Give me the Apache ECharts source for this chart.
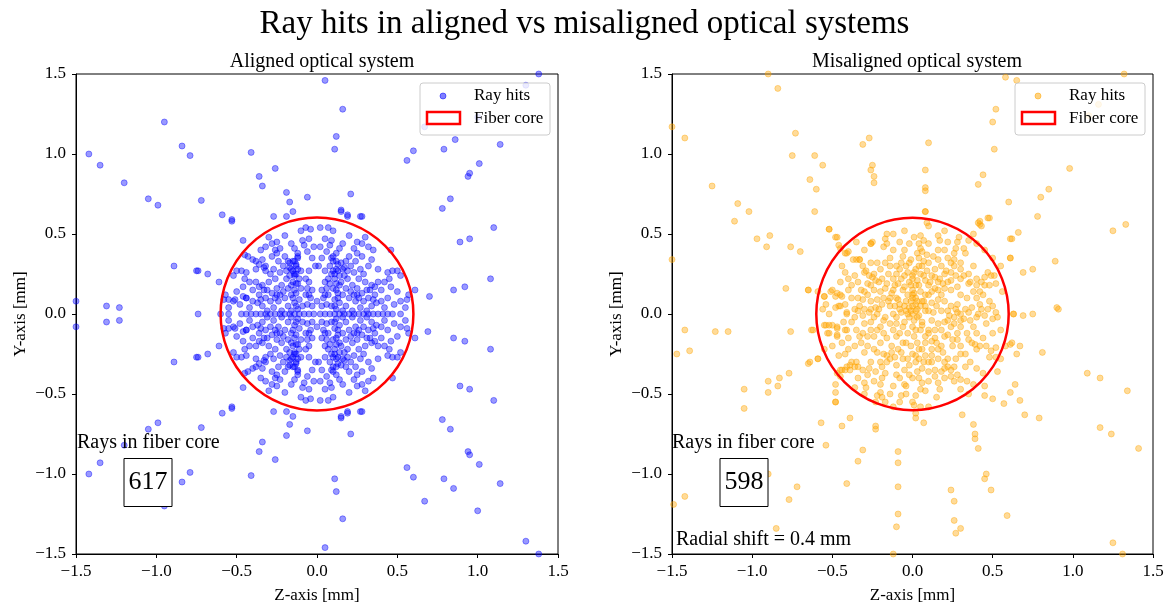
<!DOCTYPE html>
<html><head><meta charset="utf-8">
<script src="https://cdn.jsdelivr.net/npm/echarts@6/dist/echarts.min.js"></script>
<style>html,body{margin:0;padding:0;background:#fff}#c{width:1169px;height:603px}</style>
</head><body><div id="c"></div>
<script>
const FONT = 'Liberation Serif, Times New Roman, serif';
const axisTicks = [-1.5, -1.0, -0.5, 0.0, 0.5, 1.0, 1.5];
const fiberCore = [[0, 0, 0.6]];
const countAligned = 617, countMisaligned = 598;
const radialShift = 0.4;

const alignedOuter = [[-0.95,1.20],[-1.42,1.00],[-1.35,0.93],[-1.20,0.82],[-1.05,0.72],[-0.99,0.68],[-0.84,1.05],[-0.79,0.99],[-0.72,0.71],[-0.59,0.62],[-0.53,0.59],[-0.53,0.58],[-0.46,0.46],[-0.41,1.01],[-0.36,0.86],[-0.34,0.80],[-0.26,0.91],[-0.19,0.76],[-0.17,0.70],[-0.06,0.73],[-0.26,0.40],[-0.89,0.30],[-0.75,0.27],[-0.74,0.27],[-0.68,0.25],[-0.61,0.20],[-1.50,0.08],[-1.31,0.05],[-1.23,0.04],[-0.74,0.00],[-0.60,0.00],[-0.55,0.00],[-0.58,0.09],[-0.55,0.09],[-0.51,0.09],[-0.46,0.11],[-0.44,0.10],[-0.45,0.37],[-0.43,0.36],[-0.40,0.34],[-0.38,0.33],[-0.36,0.31],[-0.33,0.29],[-0.32,0.27],
[0.05,1.46],[0.16,1.28],[0.12,1.11],[0.11,1.03],[0.21,0.75],[0.15,0.65],[0.19,0.62],[0.28,0.61],[0.60,1.02],[0.56,0.96],[0.79,1.03],[0.86,1.09],[1.14,1.06],[1.01,0.94],[0.95,0.88],[0.94,0.86],[0.83,0.72],[0.78,0.66],[1.10,0.54],[0.95,0.47],[0.89,0.45],[1.08,0.22],[0.92,0.17],[0.85,0.15],[0.70,0.11],[0.61,0.15],[1.38,1.50],[1.30,1.43],[0.67,1.17],[1.00,1.23],[0.46,0.40],[0.56,0.09],
[-1.50,-0.08],[-1.31,-0.05],[-1.23,-0.04],[-0.89,-0.30],[-0.75,-0.27],[-0.74,-0.27],[-0.68,-0.25],[-0.61,-0.20],[-0.59,-0.62],[-0.53,-0.58],[-0.53,-0.59],[-0.46,-0.46],[-1.05,-0.72],[-0.99,-0.68],[-0.72,-0.71],[-1.20,-0.82],[-1.35,-0.93],[-1.42,-1.00],[-0.79,-0.99],[-0.84,-1.05],[-0.95,-1.20],[-0.41,-1.01],[-0.36,-0.86],[-0.34,-0.80],[-0.26,-0.91],[-0.19,-0.76],[-0.17,-0.69],[-0.06,-0.73],[-0.26,-0.40],[-0.58,-0.09],[-0.55,-0.09],[-0.51,-0.09],[-0.46,-0.11],[-0.44,-0.10],[-0.45,-0.37],[-0.43,-0.36],[-0.40,-0.34],[-0.38,-0.33],[-0.36,-0.31],[-0.33,-0.29],[-0.32,-0.27],
[0.69,-0.11],[0.61,-0.15],[0.85,-0.15],[0.92,-0.17],[1.08,-0.22],[0.89,-0.45],[0.95,-0.47],[1.10,-0.54],[0.78,-0.66],[0.83,-0.72],[0.94,-0.86],[0.95,-0.88],[1.01,-0.94],[1.14,-1.06],[0.56,-0.96],[0.60,-1.02],[0.79,-1.03],[0.85,-1.09],[0.67,-1.17],[1.00,-1.23],[0.11,-1.03],[0.12,-1.11],[0.16,-1.28],[0.05,-1.46],[1.30,-1.42],[1.38,-1.50],[0.15,-0.65],[0.19,-0.62],[0.28,-0.61],[0.21,-0.75],[0.47,-0.40],[0.56,-0.09]];

const alignedRow = [[-0.47,0],[-0.44,0],[-0.41,0],[-0.38,0],[-0.35,0],[-0.32,0],[-0.29,0],[-0.26,0],[-0.23,0],[-0.20,0],[-0.17,0],[-0.14,0],[-0.11,0],[-0.08,0],[-0.05,0],[-0.02,0],[0.02,0],[0.05,0],[0.08,0],[0.11,0],[0.14,0],[0.17,0],[0.20,0],[0.23,0],[0.26,0],[0.29,0],[0.32,0],[0.35,0],[0.38,0],[0.41,0],[0.44,0],[0.47,0],[0.52,0],[0,0.08],[0,-0.08]];

const alignedQ1 = [[0.24,0.33],[0.28,0.36],[0.32,0.42],[0.30,0.48],[0.28,0.44],[0.25,0.38],[0.34,0.34],[0.20,0.49],[0.16,0.44],[0.19,0.61],[0.15,0.64],[0.27,0.61],[0.02,0.54],[0.07,0.54],[0.10,0.52],[0.05,0.47],[0.09,0.46],[0.38,0.20],[0.42,0.20],[0.44,0.26],[0.47,0.27],[0.50,0.27],[0.52,0.24],[0.34,0.18],[0.31,0.15],[0.28,0.13],[0.25,0.12],[0.08,0.30],[0.10,0.33],[0.12,0.28],[0.09,0.25],[0.11,0.22],[0.08,0.19],[0.10,0.16],[0.13,0.13],[0.07,0.12],[0.15,0.20],[0.17,0.24],[0.19,0.27],[0.21,0.30],[0.18,0.16],[0.22,0.18],[0.20,0.10],[0.24,0.08],[0.14,0.07],[0.06,0.06],[0.04,0.10],[0.03,0.15],[0.05,0.20],[0.16,0.12],[0.26,0.22],[0.29,0.25],[0.32,0.10],[0.36,0.12],[0.40,0.08],[0.44,0.10],[0.48,0.06],[0.52,0.08],[0.55,0.04],[0.50,0.14],[0.46,0.17],[0.12,0.38],[0.14,0.41],[0.06,0.39],[0.03,0.35],[0.01,0.30],[0.20,0.36],[0.23,0.41],[0.25,0.45],[0.09,0.05],[0.18,0.05],[0.27,0.04],[0.34,0.05],[0.42,0.04],[0.12,0.03],[0.22,0.02],[0.31,0.02],[0.11,0.09],[0.09,0.35],[0.13,0.31],[0.10,0.27],[0.12,0.19],[0.14,0.24],[0.07,0.22],[0.16,0.28],[0.18,0.33],[0.45,0.22],[0.40,0.15],[0.37,0.07],[0.30,0.20],[0.23,0.26],[0.05,0.27],[0.02,0.42],[0.08,0.43],[0.57,0.12],[0.38,0.28],[0.35,0.40],
[0.11,0.05],[0.13,0.10],[0.12,0.15],[0.14,0.18],[0.11,0.25],[0.13,0.27],[0.12,0.33],[0.10,0.36],[0.15,0.32],[0.17,0.29],[0.19,0.22],[0.21,0.14],[0.23,0.12],[0.26,0.10],[0.29,0.08],[0.35,0.09],[0.33,0.15],[0.36,0.17],[0.06,0.16],[0.05,0.12],[0.03,0.05],[0.16,0.02],[0.25,0.16],[0.27,0.28],[0.32,0.30]];

const alignedQ2 = [[-0.24,0.33],[-0.28,0.36],[-0.32,0.42],[-0.30,0.48],[-0.28,0.44],[-0.25,0.38],[-0.34,0.34],[-0.20,0.49],[-0.16,0.44],[-0.19,0.61],[-0.15,0.64],[-0.27,0.61],[-0.04,0.53],[-0.07,0.54],[-0.10,0.52],[-0.05,0.47],[-0.09,0.46],[-0.38,0.20],[-0.42,0.20],[-0.44,0.26],[-0.47,0.27],[-0.50,0.27],[-0.52,0.24],[-0.34,0.18],[-0.31,0.15],[-0.28,0.13],[-0.25,0.12],[-0.13,0.30],[-0.15,0.33],[-0.12,0.28],[-0.14,0.25],[-0.11,0.22],[-0.13,0.19],[-0.10,0.16],[-0.13,0.13],[-0.07,0.12],[-0.15,0.20],[-0.17,0.24],[-0.19,0.27],[-0.21,0.30],[-0.18,0.16],[-0.22,0.18],[-0.20,0.10],[-0.24,0.08],[-0.14,0.07],[-0.06,0.06],[-0.04,0.10],[-0.03,0.15],[-0.05,0.20],[-0.16,0.12],[-0.26,0.22],[-0.29,0.25],[-0.32,0.10],[-0.36,0.12],[-0.40,0.08],[-0.44,0.10],[-0.48,0.06],[-0.52,0.08],[-0.55,0.04],[-0.50,0.14],[-0.46,0.17],[-0.12,0.38],[-0.14,0.41],[-0.06,0.39],[-0.03,0.35],[-0.01,0.30],[-0.20,0.36],[-0.23,0.41],[-0.25,0.45],[-0.09,0.05],[-0.18,0.05],[-0.27,0.04],[-0.34,0.05],[-0.42,0.04],[-0.12,0.03],[-0.22,0.02],[-0.31,0.02],[-0.11,0.09],[-0.12,0.35],[-0.13,0.31],[-0.10,0.27],[-0.12,0.19],[-0.14,0.24],[-0.07,0.22],[-0.16,0.28],[-0.18,0.33],[-0.45,0.22],[-0.40,0.15],[-0.37,0.07],[-0.30,0.20],[-0.23,0.26],[-0.05,0.27],[-0.02,0.42],[-0.08,0.43],[-0.57,0.12],[-0.38,0.28],[-0.35,0.40],
[-0.13,0.05],[-0.15,0.10],[-0.14,0.15],[-0.16,0.18],[-0.13,0.25],[-0.15,0.27],[-0.14,0.33],[-0.12,0.36],[-0.17,0.32],[-0.17,0.29],[-0.19,0.22],[-0.21,0.14],[-0.23,0.12],[-0.26,0.10],[-0.29,0.08],[-0.35,0.09],[-0.33,0.15],[-0.36,0.17],[-0.06,0.16],[-0.05,0.12],[-0.03,0.05],[-0.16,0.02],[-0.25,0.16],[-0.27,0.28],[-0.32,0.30]];

const alignedQ3 = [[-0.24,-0.33],[-0.28,-0.36],[-0.32,-0.42],[-0.30,-0.48],[-0.28,-0.44],[-0.25,-0.38],[-0.34,-0.34],[-0.20,-0.49],[-0.16,-0.44],[-0.19,-0.61],[-0.15,-0.64],[-0.27,-0.61],[-0.04,-0.53],[-0.07,-0.54],[-0.10,-0.52],[-0.05,-0.47],[-0.09,-0.46],[-0.38,-0.20],[-0.42,-0.20],[-0.44,-0.26],[-0.47,-0.27],[-0.50,-0.27],[-0.52,-0.24],[-0.34,-0.18],[-0.31,-0.15],[-0.28,-0.13],[-0.25,-0.12],[-0.13,-0.30],[-0.15,-0.33],[-0.12,-0.28],[-0.14,-0.25],[-0.11,-0.22],[-0.13,-0.19],[-0.10,-0.16],[-0.13,-0.13],[-0.07,-0.12],[-0.15,-0.20],[-0.17,-0.24],[-0.19,-0.27],[-0.21,-0.30],[-0.18,-0.16],[-0.22,-0.18],[-0.20,-0.10],[-0.24,-0.08],[-0.14,-0.07],[-0.06,-0.06],[-0.04,-0.10],[-0.03,-0.15],[-0.05,-0.20],[-0.16,-0.12],[-0.26,-0.22],[-0.29,-0.25],[-0.32,-0.10],[-0.36,-0.12],[-0.40,-0.08],[-0.44,-0.10],[-0.48,-0.06],[-0.52,-0.08],[-0.55,-0.04],[-0.50,-0.14],[-0.46,-0.17],[-0.12,-0.38],[-0.14,-0.41],[-0.06,-0.39],[-0.03,-0.35],[-0.01,-0.30],[-0.20,-0.36],[-0.23,-0.41],[-0.25,-0.45],[-0.09,-0.05],[-0.18,-0.05],[-0.27,-0.04],[-0.34,-0.05],[-0.42,-0.04],[-0.12,-0.03],[-0.22,-0.02],[-0.31,-0.02],[-0.11,-0.09],[-0.12,-0.35],[-0.13,-0.31],[-0.10,-0.27],[-0.12,-0.19],[-0.14,-0.24],[-0.07,-0.22],[-0.16,-0.28],[-0.18,-0.33],[-0.45,-0.22],[-0.40,-0.15],[-0.37,-0.07],[-0.30,-0.20],[-0.23,-0.26],[-0.05,-0.27],[-0.02,-0.42],[-0.08,-0.43],[-0.57,-0.12],[-0.38,-0.28],[-0.35,-0.40],
[-0.13,-0.05],[-0.15,-0.10],[-0.14,-0.15],[-0.16,-0.18],[-0.13,-0.25],[-0.15,-0.27],[-0.14,-0.33],[-0.12,-0.36],[-0.17,-0.32],[-0.17,-0.29],[-0.19,-0.22],[-0.21,-0.14],[-0.23,-0.12],[-0.26,-0.10],[-0.29,-0.08],[-0.35,-0.09],[-0.33,-0.15],[-0.36,-0.17],[-0.06,-0.16],[-0.05,-0.12],[-0.03,-0.05],[-0.16,-0.02],[-0.25,-0.16],[-0.27,-0.28],[-0.32,-0.30]];

const alignedQ4 = [[0.24,-0.33],[0.28,-0.36],[0.32,-0.42],[0.30,-0.48],[0.28,-0.44],[0.25,-0.38],[0.34,-0.34],[0.20,-0.49],[0.16,-0.44],[0.19,-0.61],[0.15,-0.64],[0.27,-0.61],[0.02,-0.54],[0.07,-0.54],[0.10,-0.52],[0.05,-0.47],[0.09,-0.46],[0.38,-0.20],[0.42,-0.20],[0.44,-0.26],[0.47,-0.27],[0.50,-0.27],[0.52,-0.24],[0.34,-0.18],[0.31,-0.15],[0.28,-0.13],[0.25,-0.12],[0.08,-0.30],[0.10,-0.33],[0.12,-0.28],[0.09,-0.25],[0.11,-0.22],[0.08,-0.19],[0.10,-0.16],[0.13,-0.13],[0.07,-0.12],[0.15,-0.20],[0.17,-0.24],[0.19,-0.27],[0.21,-0.30],[0.18,-0.16],[0.22,-0.18],[0.20,-0.10],[0.24,-0.08],[0.14,-0.07],[0.06,-0.06],[0.04,-0.10],[0.03,-0.15],[0.05,-0.20],[0.16,-0.12],[0.26,-0.22],[0.29,-0.25],[0.32,-0.10],[0.36,-0.12],[0.40,-0.08],[0.44,-0.10],[0.48,-0.06],[0.52,-0.08],[0.55,-0.04],[0.50,-0.14],[0.46,-0.17],[0.12,-0.38],[0.14,-0.41],[0.06,-0.39],[0.03,-0.35],[0.01,-0.30],[0.20,-0.36],[0.23,-0.41],[0.25,-0.45],[0.09,-0.05],[0.18,-0.05],[0.27,-0.04],[0.34,-0.05],[0.42,-0.04],[0.12,-0.03],[0.22,-0.02],[0.31,-0.02],[0.11,-0.09],[0.09,-0.35],[0.13,-0.31],[0.10,-0.27],[0.12,-0.19],[0.14,-0.24],[0.07,-0.22],[0.16,-0.28],[0.18,-0.33],[0.45,-0.22],[0.40,-0.15],[0.37,-0.07],[0.30,-0.20],[0.23,-0.26],[0.05,-0.27],[0.02,-0.42],[0.08,-0.43],[0.57,-0.12],[0.38,-0.28],[0.35,-0.40],
[0.11,-0.05],[0.13,-0.10],[0.12,-0.15],[0.14,-0.18],[0.11,-0.25],[0.13,-0.27],[0.12,-0.33],[0.10,-0.36],[0.15,-0.32],[0.17,-0.29],[0.19,-0.22],[0.21,-0.14],[0.23,-0.12],[0.26,-0.10],[0.29,-0.08],[0.35,-0.09],[0.33,-0.15],[0.36,-0.17],[0.06,-0.16],[0.05,-0.12],[0.03,-0.05],[0.16,-0.02],[0.25,-0.16],[0.27,-0.28],[0.32,-0.30]];

const misOuter = [[-0.90,1.50],[-0.84,1.41],[-1.50,1.17],[-1.42,1.10],[-0.73,1.13],[-0.75,0.99],[-0.61,0.99],[-0.56,0.93],[-0.64,0.84],[-0.60,0.78],[-0.61,0.64],[-1.25,0.80],[-1.09,0.69],[-1.02,0.64],[-1.11,0.58],[-0.97,0.47],[-0.89,0.49],[-0.91,0.42],[-0.76,0.42],[-0.70,0.39],[-0.79,0.16],[-0.65,0.15],[-1.50,0.34],[-0.52,0.53],[-0.48,0.48],[-0.31,1.06],[-0.27,1.10],[-0.25,0.93],[-0.26,0.90],[-0.24,0.86],[-0.24,0.82],[-0.26,0.44],[-0.45,0.41],[-0.41,0.38],[-0.37,0.34],[-0.33,0.34],[-0.59,0.14],[-0.55,0.11],[-0.51,0.14],[-0.48,0.11],[-0.45,0.12],[-0.46,0.05],[-0.54,0.06],[-0.41,0.00],
[0.58,1.48],[0.65,1.46],[1.32,1.50],[1.16,1.31],[1.10,1.24],[0.52,1.28],[0.50,1.20],[0.51,1.03],[0.10,1.07],[0.08,0.90],[0.08,0.79],[0.08,0.77],[0.08,0.64],[0.44,0.87],[0.41,0.81],[0.98,0.91],[0.85,0.78],[0.80,0.73],[0.60,0.70],[0.78,0.61],[0.47,0.60],[0.42,0.58],[0.42,0.56],[0.66,0.51],[0.61,0.47],[1.25,0.52],[1.33,0.56],[0.61,0.35],[0.89,0.33],[0.75,0.28],[0.69,0.26],[0.90,0.04],[0.75,0.00],[0.69,-0.01],[0.63,0.00],
[-1.42,-0.10],[-1.47,-0.25],[-1.39,-0.23],[-1.23,-0.11],[-1.15,-0.11],[-0.76,-0.11],[-0.63,-0.10],[-0.55,-0.07],[-0.52,-0.07],[-0.53,-0.12],[-0.47,-0.08],[-0.47,-0.14],[-0.42,-0.10],[-0.64,-0.30],[-0.59,-0.28],[-0.77,-0.37],[-0.83,-0.40],[-0.84,-0.45],[-0.90,-0.42],[-0.90,-0.49],[-1.05,-0.47],[-1.05,-0.59],[-0.48,-0.44],[-0.48,-0.55],[-0.45,-0.35],[-0.42,-0.35],[-0.39,-0.32],[-0.35,-0.30],[-0.31,-0.35],[-0.29,-0.46],[-0.57,-0.68],[-0.44,-0.70],[-0.39,-0.65],[-0.54,-0.82],[-0.31,-0.85],[-0.34,-0.92],[-0.23,-0.70],[-0.23,-0.72],[-0.90,-1.00],[-0.41,-1.06],[-0.72,-1.08],[-0.77,-1.16],[-1.42,-1.14],[-1.49,-1.19],[-0.85,-1.34],[-0.09,-0.86],[-0.09,-0.93],[-0.09,-1.08],[-0.09,-1.25],[-0.10,-1.33],[-0.12,-1.50],
[0.91,0.03],[0.61,-0.19],[0.65,-0.25],[0.67,-0.20],[0.81,-0.24],[0.53,-0.36],[0.64,-0.44],[0.61,-0.49],[0.67,-0.54],[0.57,-0.56],[0.50,-0.53],[0.45,-0.51],[0.70,-0.63],[0.79,-0.65],[1.09,-0.37],[1.17,-0.40],[1.34,-0.48],[1.17,-0.71],[1.24,-0.75],[1.41,-0.84],[0.02,-0.65],[0.07,-0.68],[0.31,-0.63],[0.38,-0.69],[0.39,-0.75],[0.39,-0.78],[0.41,-0.84],[0.46,-1.00],[0.45,-1.03],[0.49,-1.10],[0.24,-1.10],[0.26,-1.17],[0.26,-1.29],[0.30,-1.34],[0.27,-1.37],[0.59,-1.26],[1.25,-1.43],[1.31,-1.50]];

const misInnerA = [[0.08,0.64],[0.09,0.57],[-0.16,0.50],[-0.17,0.47],[-0.16,0.44],[-0.18,0.42],[-0.26,0.44],[-0.35,0.34],[-0.33,0.34],[-0.31,0.30],[-0.40,0.39],[-0.42,0.38],[-0.47,0.48],[-0.52,0.53],[-0.46,0.43],[0.01,0.48],[0.05,0.49],[0.07,0.46],[0.05,0.41],[0.06,0.39],[0.04,0.44],[0.16,0.49],[0.17,0.46],[0.29,0.48],[0.28,0.45],[0.27,0.41],[0.26,0.38],[0.41,0.57],[0.43,0.55],[0.48,0.60],[0.35,0.46],[0.32,0.41],[0.33,0.38],[0.62,0.47],[0.61,0.35],[0.40,0.22],[0.43,0.20],[0.45,0.23],[0.47,0.26],[0.49,0.24],[0.51,0.24],[0.52,0.19],[0.48,0.18],[0.45,0.18],[0.30,0.22],[0.35,0.19],[0.28,0.17],[0.24,0.15],[0.42,0.06],[0.43,0.03],[0.47,0.03],[0.48,0.08],[0.50,0.05],[0.52,0.01],[0.53,-0.02],[0.50,-0.03],[0.45,-0.01],[0.41,0.00],[0.63,0.00],[0.35,0.01],[0.30,0.00],[0.27,0.03],[0.24,0.05],[0.28,0.06],[0.37,-0.18],[0.39,-0.19],[0.42,-0.20],[0.46,-0.20],[0.49,-0.23],[0.52,-0.21],[0.48,-0.27],[0.52,-0.27],[0.55,-0.28],[0.62,-0.18],[0.22,-0.13],[0.25,-0.16],[0.30,-0.20],[0.33,-0.25],[0.27,-0.28],[0.24,-0.35],[0.28,-0.38],[0.30,-0.41],[0.34,-0.42],[0.30,-0.47],[0.24,-0.39],[0.22,-0.33],[0.20,-0.30],[0.04,-0.40],[0.06,-0.43],[0.05,-0.47],[0.02,-0.51],[0.00,-0.55],[0.01,-0.57],[0.05,-0.58],[0.14,-0.39],[0.16,-0.43],[0.17,-0.47],[0.15,-0.52],[-0.05,-0.44],[-0.07,-0.51],[-0.08,-0.55],[-0.17,-0.37],[-0.19,-0.40],[-0.20,-0.44],[-0.20,-0.49],[-0.19,-0.52],[-0.22,-0.51],[-0.23,-0.55],[-0.17,-0.55],[-0.39,-0.35],[-0.36,-0.33],[-0.34,-0.33],[-0.41,-0.33],[-0.44,-0.35],[-0.45,-0.39],[-0.47,-0.37],[-0.54,-0.07],[-0.50,-0.07],[-0.47,-0.09],[-0.47,-0.13],[-0.52,-0.12],[-0.41,-0.10],[-0.62,-0.10],[-0.59,-0.28],[-0.65,-0.31],[-0.48,-0.49],[-0.48,-0.55],[-0.65,0.15],[-0.55,0.11],[-0.50,0.15],[-0.47,0.13],[-0.44,0.11],[-0.45,0.05],[-0.41,0.01],[-0.30,0.26],[-0.27,0.24],[-0.24,0.25],[-0.23,0.21],[-0.28,0.19],[-0.22,0.32],[-0.17,0.32],[-0.34,0.10],[-0.31,0.09],[-0.33,0.05],[-0.36,0.03],[-0.30,0.03],[-0.26,0.08],[-0.22,0.09],[-0.21,0.03]];

const misInnerB = [[-0.15,0.25],[-0.12,0.22],[-0.08,0.28],[-0.05,0.24],[-0.02,0.20],[0.00,0.15],[0.02,0.10],[0.00,0.05],[-0.03,0.00],[0.03,-0.02],[0.05,0.05],[0.08,0.12],[0.10,0.18],[0.12,0.24],[0.14,0.28],[0.16,0.20],[0.18,0.12],[0.20,0.08],[0.15,0.05],[0.10,0.02],[0.06,-0.05],[0.02,-0.10],[-0.05,-0.05],[-0.10,-0.02],[-0.14,0.05],[-0.18,0.10],[-0.10,0.10],[-0.06,0.15],[-0.12,0.15],[-0.08,0.06],[0.06,0.30],[0.04,0.35],[-0.02,0.32],[-0.06,0.36],[0.10,0.32],[0.18,0.30],[0.20,0.25],[0.22,0.20],[0.10,-0.10],[0.14,-0.15],[0.18,-0.20],[0.12,-0.22],[0.08,-0.18],[0.04,-0.22],[0.00,-0.25],[-0.04,-0.18],[-0.08,-0.12],[-0.12,-0.10],[-0.16,-0.15],[-0.20,-0.18],[-0.24,-0.22],[-0.18,-0.25],[-0.14,-0.28],[-0.10,-0.32],[-0.06,-0.28],[-0.02,-0.32],[0.02,-0.30],[0.06,-0.34],[0.10,-0.30],[0.14,-0.35],[-0.22,-0.10],[-0.26,-0.05],[-0.28,-0.14],[-0.32,-0.18],[-0.30,-0.24],[-0.26,-0.30],[-0.35,-0.10],[-0.38,-0.05],[-0.36,-0.02],[0.20,-0.05],[0.24,-0.08],[0.18,-0.10],[0.26,-0.02],[0.30,-0.08],[0.34,-0.12],[0.38,-0.08],[0.22,0.02],[0.30,0.12],[0.34,0.10],[0.38,0.14],[-0.01,0.02],[0.01,-0.04],[0.03,0.03],[-0.04,0.08],[0.07,0.08],[0.00,0.00],[0.04,0.18],[-0.10,0.30],[-0.14,0.35],[-0.12,0.40],[0.26,0.30],[0.30,0.32],[-0.20,-0.30],[-0.08,-0.40],[-0.04,-0.45],[0.10,-0.42],[0.08,-0.48],[0.00,0.10],[0.01,0.13],[-0.01,0.18],[0.00,0.22],[0.01,0.26],[-0.01,0.08],[0.02,0.06],[-0.02,0.04]];

const misInnerC = [[-0.05,0.05],[-0.09,0.09],[-0.13,0.13],[-0.17,0.16],[-0.21,0.20],[-0.25,0.23],[-0.29,0.27],[0.00,0.12],[0.02,0.18],[0.00,0.24],[0.02,0.28],[-0.01,0.34],[0.03,0.38],[0.06,0.08],[0.10,0.12],[0.14,0.16],[0.17,0.22],[0.21,0.27],[0.24,0.32],[0.08,0.02],[0.13,0.01],[0.18,0.02],[0.23,-0.01],[0.28,0.01],[0.33,0.03],[0.06,-0.07],[0.10,-0.12],[0.15,-0.18],[0.19,-0.24],[0.22,-0.28],[0.26,-0.33],[0.00,-0.08],[0.01,-0.14],[-0.01,-0.20],[0.02,-0.26],[0.03,-0.36],[0.00,-0.40],[-0.06,-0.08],[-0.10,-0.14],[-0.13,-0.20],[-0.16,-0.26],[-0.19,-0.33],[-0.23,-0.36],[-0.07,0.01],[-0.12,0.00],[-0.17,-0.02],[-0.22,0.00],[-0.27,0.01],[-0.31,-0.01],[-0.14,-0.06],[-0.20,-0.08],[-0.26,-0.10],[-0.31,-0.12],[-0.24,0.15],[-0.20,0.14],[-0.28,0.12],[-0.32,0.15],[-0.38,0.18],[-0.36,0.24],[-0.40,0.22],[-0.42,0.26],[-0.45,0.20],[-0.09,0.19],[-0.07,0.22],[0.07,0.24],[0.09,0.27],[0.13,0.36],[0.16,0.40],[0.20,0.40],[0.24,0.26],[0.30,0.28],[0.35,0.25],[0.38,0.30],[0.40,0.10],[0.44,0.12],[0.37,0.04],[0.32,-0.03],[0.28,-0.12],[0.35,-0.16],[0.40,-0.12],[0.44,-0.15],[0.30,-0.25],[0.36,-0.30],[0.40,-0.34],[0.44,-0.37],[0.18,-0.36],[0.12,-0.30],[0.08,-0.26],[0.10,-0.36],[-0.05,-0.35],[-0.10,-0.38],[-0.12,-0.45],[-0.14,-0.50],[-0.28,-0.38],[-0.30,-0.43],[-0.34,-0.40],[-0.38,-0.30],[-0.42,-0.25],[-0.44,-0.18],[-0.40,-0.15],[-0.36,-0.20],[-0.50,-0.20],[-0.55,-0.22],[-0.52,0.00],[-0.56,0.03],[-0.48,0.04],[-0.42,0.06],[-0.38,0.10],[0.56,0.14],[0.55,-0.10],[0.50,-0.12],[0.46,-0.06],[0.55,0.30],[0.50,0.35],[0.45,0.40],[0.40,0.44],[0.38,0.50],[-0.08,0.45],[-0.12,0.50],[-0.05,0.52],[0.10,0.55],[0.20,0.52],[-0.30,0.40],[-0.25,0.45],[-0.35,0.45],[0.58,-0.20],[0.45,-0.45],[0.38,-0.44],[0.35,-0.50],[-0.30,-0.50],[-0.36,-0.46],[0.02,-0.62],[0.10,-0.58],[-0.12,-0.58]];

const misInnerD = [[0.02,0.02],[-0.02,-0.02],[0.04,-0.01],[-0.04,0.02],[0.03,0.08],[-0.03,0.12],[0.05,0.14],[-0.05,0.17],[0.03,0.21],[-0.03,0.26],[0.05,0.25],[0.04,0.30],[-0.04,0.30],[0.08,0.05],[0.12,0.07],[0.16,0.09],[0.12,0.14],[0.16,0.15],[0.20,0.16],[0.19,0.19],[0.24,0.21],[0.27,0.24],[0.11,0.20],[0.14,0.23],[0.08,0.21],[-0.08,0.03],[-0.11,0.05],[-0.15,0.08],[-0.19,0.06],[-0.23,0.04],[-0.26,0.03],[-0.16,0.19],[-0.19,0.22],[-0.11,0.18],[-0.14,0.10],[-0.10,0.25],[-0.07,0.32],[-0.05,0.40],[0.09,0.37],[0.07,0.33],[0.05,-0.10],[0.08,-0.14],[0.12,-0.17],[0.16,-0.22],[0.06,-0.22],[0.03,-0.18],[-0.03,-0.12],[-0.06,-0.18],[-0.09,-0.22],[-0.13,-0.24],[-0.16,-0.30],[-0.11,-0.27],[-0.07,-0.24],[-0.03,-0.28],[0.04,-0.28],[0.07,-0.30],[0.16,-0.28],[0.20,-0.34],[0.12,-0.26],[0.25,-0.20],[0.28,-0.16],[0.20,-0.14],[0.16,-0.06],[0.12,-0.04],[0.14,-0.10],[0.22,-0.04],[0.26,-0.06],[0.30,-0.04],[-0.10,-0.06],[-0.18,-0.12],[-0.24,-0.14],[-0.22,-0.24],[-0.28,-0.20],[-0.33,-0.14],[-0.30,-0.06],[-0.18,-0.04],[-0.24,-0.02],[-0.34,0.02],[-0.30,0.14],[-0.26,0.18],[-0.34,0.20],[-0.20,0.28],[-0.26,0.32],[-0.14,0.30],[0.16,0.34],[0.22,0.35],[0.26,0.34],[0.32,0.24],[0.36,0.20],[0.40,0.18],[0.42,0.14],[0.36,-0.04],[0.40,-0.02],[0.40,-0.22],[0.33,-0.33],[0.26,-0.42],[0.20,-0.40],[-0.02,-0.38],[-0.04,-0.50],[-0.24,-0.42],[-0.27,-0.34],[-0.40,-0.22],[-0.46,-0.26],[-0.43,-0.05],[-0.40,0.15],[-0.44,0.30],[0.22,0.45],[0.10,0.44],[-0.02,0.44]];

const alignedData = [].concat(alignedOuter, alignedRow, alignedQ1, alignedQ2, alignedQ3, alignedQ4);
const misData = [].concat(misOuter, misInnerA, misInnerB, misInnerC, misInnerD);

const chart = echarts.init(document.getElementById('c'), null, {renderer: 'canvas'});
const fmt = v => { const s = Math.abs(v).toFixed(1); return v < 0 ? '\u2212' + s : s; };
function xAx(i) {
  return {gridIndex: i, type: 'value', min: axisTicks[0], max: axisTicks[axisTicks.length-1], interval: 0.5,
    name: 'Z-axis [mm]', nameLocation: 'middle', nameGap: 33,
    nameTextStyle: {fontFamily: FONT, fontSize: 17, color: '#000'},
    axisLine: {show: true, onZero: false, lineStyle: {color: '#000', width: 1}},
    axisTick: {show: true, length: 4, lineStyle: {color: '#000'}},
    axisLabel: {fontFamily: FONT, fontSize: 17, color: '#000', margin: 9, formatter: fmt},
    splitLine: {show: false}};
}
function yAx(i) {
  return {gridIndex: i, type: 'value', min: axisTicks[0], max: axisTicks[axisTicks.length-1], interval: 0.5,
    name: 'Y-axis [mm]', nameLocation: 'middle', nameGap: 47, nameRotate: 90,
    nameTextStyle: {fontFamily: FONT, fontSize: 17, color: '#000'},
    axisLine: {show: true, onZero: false, lineStyle: {color: '#000', width: 1}},
    axisTick: {show: true, length: 4, lineStyle: {color: '#000'}},
    axisLabel: {fontFamily: FONT, fontSize: 17, color: '#000', margin: 10, formatter: fmt},
    splitLine: {show: false}};
}
function circleSeries(i) {
  return {type: 'custom', xAxisIndex: i, yAxisIndex: i, z: 5, silent: true,
    data: fiberCore, encode: {x: 0, y: 1},
    renderItem: (params, api) => {
      const c = api.coord([api.value(0), api.value(1)]);
      const r = api.size([api.value(2), 0])[0];
      return {type: 'circle', shape: {cx: c[0], cy: c[1], r: r},
        style: {fill: 'none', stroke: '#ff0000', lineWidth: 2.5}};
    }};
}
function legendGraphics(x0, col) {
  return [
    {type: 'rect', z: 20, shape: {x: x0, y: 83, width: 130, height: 52, r: 3},
      style: {fill: 'rgba(255,255,255,0.8)', stroke: '#cccccc', lineWidth: 1}},
    {type: 'circle', z: 21, shape: {cx: x0 + 23, cy: 96, r: 3}, style: {fill: col, stroke: col, lineWidth: 1}},
    {type: 'text', z: 21, x: x0 + 54, y: 96, style: {text: 'Ray hits', font: '17px ' + FONT, fill: '#000', verticalAlign: 'middle'}},
    {type: 'rect', z: 21, shape: {x: x0 + 7, y: 112, width: 33, height: 12}, style: {fill: 'none', stroke: '#ff0000', lineWidth: 2.5}},
    {type: 'text', z: 21, x: x0 + 54, y: 119, style: {text: 'Fiber core', font: '17px ' + FONT, fill: '#000', verticalAlign: 'middle'}}
  ];
}
function annot(xLeft, boxLeft, count) {
  return [
    {type: 'text', z: 22, x: xLeft, y: 443, style: {text: 'Rays in fiber core', font: '20px ' + FONT, fill: '#000', verticalAlign: 'middle'}},
    {type: 'rect', z: 22, shape: {x: boxLeft, y: 458.5, width: 48, height: 48}, style: {fill: '#fff', stroke: '#000', lineWidth: 1}},
    {type: 'text', z: 23, x: boxLeft + 24, y: 482, style: {text: String(count), font: '26px ' + FONT, fill: '#000', align: 'center', verticalAlign: 'middle'}}
  ];
}
const option = {
  animation: false,
  backgroundColor: '#fff',
  title: [
    {text: 'Ray hits in aligned vs misaligned optical systems', left: 'center', top: 3,
      textStyle: {fontFamily: FONT, fontSize: 33, fontWeight: 'normal', color: '#000'}},
    {text: 'Aligned optical system', left: 317, top: 47, textAlign: 'center',
      textStyle: {fontFamily: FONT, fontSize: 20, fontWeight: 'normal', color: '#000'}},
    {text: 'Misaligned optical system', left: 912, top: 47, textAlign: 'center',
      textStyle: {fontFamily: FONT, fontSize: 20, fontWeight: 'normal', color: '#000'}}
  ],
  grid: [
    {left: 76, top: 74, width: 482, height: 480, show: true, borderColor: '#000', borderWidth: 1, containLabel: false, outerBoundsMode: 'none'},
    {left: 672, top: 74, width: 481, height: 480, show: true, borderColor: '#000', borderWidth: 1, containLabel: false, outerBoundsMode: 'none'}
  ],
  xAxis: [xAx(0), xAx(1)],
  yAxis: [yAx(0), yAx(1)],
  series: [
    {type: 'scatter', xAxisIndex: 0, yAxisIndex: 0, data: alignedData, symbolSize: 6, z: 2,
      itemStyle: {color: 'rgba(0,0,255,0.5)', borderColor: 'rgba(0,0,255,0.5)', borderWidth: 1}},
    circleSeries(0),
    {type: 'scatter', xAxisIndex: 1, yAxisIndex: 1, data: misData, symbolSize: 6, z: 2,
      itemStyle: {color: 'rgba(255,165,0,0.5)', borderColor: 'rgba(255,165,0,0.5)', borderWidth: 1}},
    circleSeries(1)
  ],
  graphic: [].concat(
    legendGraphics(420, 'rgba(0,0,255,0.5)'),
    legendGraphics(1015, 'rgba(255,165,0,0.5)'),
    annot(77, 124, countAligned),
    annot(672, 720, countMisaligned),
    [{type: 'text', z: 22, x: 676, y: 540, style: {text: 'Radial shift = ' + radialShift + ' mm', font: '20px ' + FONT, fill: '#000', verticalAlign: 'middle'}}]
  )
};
chart.setOption(option);
</script></body></html>
